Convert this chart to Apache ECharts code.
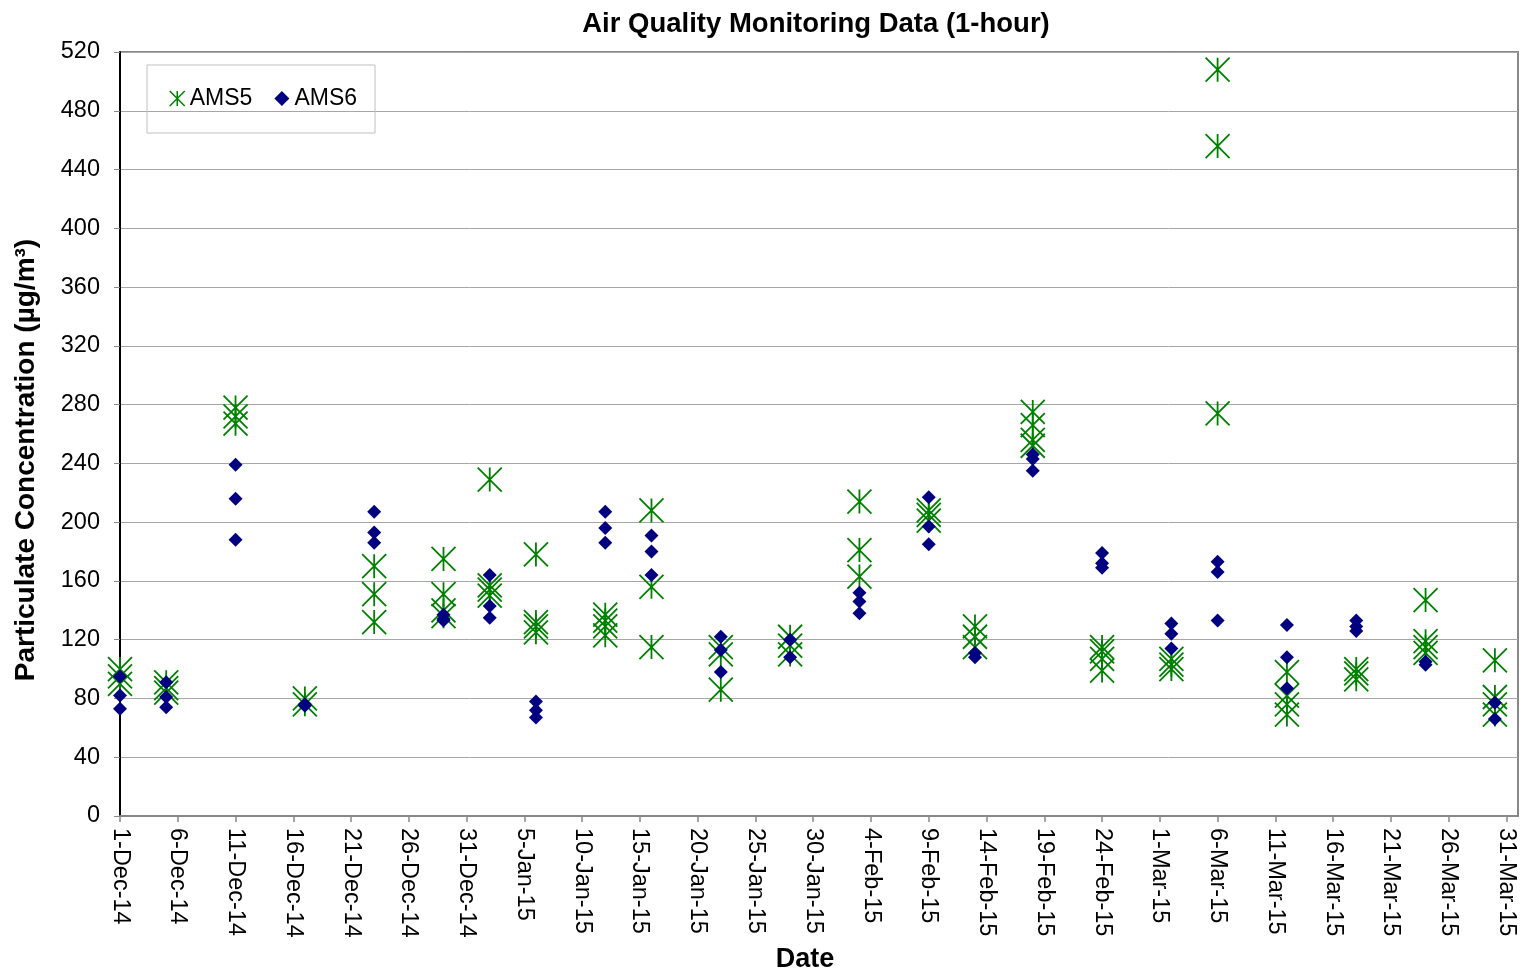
<!DOCTYPE html>
<html lang="en">
<head>
    <meta charset="utf-8">
    <title>Air Quality Monitoring Data (1-hour)</title>
    <script src="https://cdn.jsdelivr.net/npm/echarts@6/dist/echarts.min.js"></script>
    <style>
        html, body { margin: 0; padding: 0; background: #ffffff; }
        #chart { width: 1522px; height: 978px; }
    </style>
</head>
<body>
<div id="chart"></div>
<script>
    // sampling days, one group of hourly readings per day
    var sampleDates = ['2014-12-01', '2014-12-05', '2014-12-11', '2014-12-17', '2014-12-23', '2014-12-29',
        '2015-01-02', '2015-01-06', '2015-01-12', '2015-01-16', '2015-01-22', '2015-01-28',
        '2015-02-03', '2015-02-09', '2015-02-13', '2015-02-18', '2015-02-24', '2015-03-02',
        '2015-03-06', '2015-03-12', '2015-03-18', '2015-03-24', '2015-03-30'];

    var ams5 = [[100, 95, 90], [91, 87, 84], [278, 272, 267], [80, 76], [170, 151, 132], [175, 151, 140, 136],
        [229, 157, 154, 150], [178, 132, 129, 125], [137, 133, 129, 123], [208, 156, 115], [115, 110, 86], [122, 116, 110],
        [214, 181, 163], [208, 205, 201], [129, 122, 115], [275, 266, 256, 252], [115, 112, 107, 99], [107, 103, 100],
        [508, 456, 274], [98, 82, 76, 69], [100, 97, 93], [147, 119, 115, 111], [106, 81, 76, 69]];

    var ams6 = [[95, 82, 73], [91, 81, 74], [239, 216, 188], [76, 75], [207, 193, 186], [137, 134, 133],
        [164, 143, 135], [78, 72, 67], [207, 196, 186], [191, 180, 164], [122, 113, 98], [120, 108],
        [152, 146, 138], [217, 197, 185], [111, 108], [246, 243, 235], [179, 172, 169], [131, 124, 114],
        [173, 166, 133], [130, 108, 87], [133, 129, 126], [105, 103], [77, 66]];

    var yTicks = [0, 520, 40];   // min, max, step

    var startDay = Date.UTC(2014, 11, 1);
    var dayMs = 86400000;
    var months = ['Jan', 'Feb', 'Mar', 'Apr', 'May', 'Jun', 'Jul', 'Aug', 'Sep', 'Oct', 'Nov', 'Dec'];

    function dayIndex(s) {
        var p = s.split('-');
        return Math.round((Date.UTC(+p[0], +p[1] - 1, +p[2]) - startDay) / dayMs);
    }

    function dateLabel(v) {
        var d = new Date(startDay + v * dayMs);
        return d.getUTCDate() + '-' + months[d.getUTCMonth()] + '-' + String(d.getUTCFullYear()).slice(2);
    }

    function toPoints(groups) {
        var pts = [];
        for (var i = 0; i < groups.length; i++) {
            var x = dayIndex(sampleDates[i]);
            groups[i].forEach(function (v) { pts.push([x, v]); });
        }
        return pts;
    }

    var starPath = 'path://M0,0L20,20M20,0L0,20M10,0L10,20';
    var font = 'Liberation Sans, Arial, sans-serif';

    var chart = echarts.init(document.getElementById('chart'));
    chart.setOption({
        animation: false,
        backgroundColor: '#ffffff',
        title: {
            text: 'Air Quality Monitoring Data (1-hour)',
            left: 811,
            top: 5,
            textAlign: 'center',
            textStyle: {fontFamily: font, fontSize: 27.5, fontWeight: 'bold', color: '#000'}
        },
        legend: {
            left: 147,
            top: 65,
            padding: [22, 18, 23, 22],
            borderColor: '#c0c0c0',
            borderWidth: 1,
            itemWidth: 15,
            itemHeight: 15,
            itemGap: 22,
            textStyle: {fontFamily: font, fontSize: 23, color: '#000', padding: [0, 0, 0, 0]},
            data: [
                {name: 'AMS5', icon: starPath, itemStyle: {color: 'rgba(0,0,0,0)', borderColor: '#008000', borderWidth: 1.5, opacity: 1}},
                {name: 'AMS6', icon: 'diamond', itemStyle: {color: '#000080', borderWidth: 0, opacity: 1}}
            ]
        },
        grid: {
            left: 120,
            right: 4,
            top: 52,
            bottom: 162,
            show: true,
            borderColor: '#888888',
            borderWidth: 2
        },
        xAxis: {
            type: 'value',
            min: 0,
            max: 121,
            interval: 5,
            name: 'Date',
            nameLocation: 'middle',
            nameGap: 128,
            nameTextStyle: {fontFamily: font, fontSize: 27, fontWeight: 'bold', color: '#000', padding: [0, 28, 0, 0]},
            axisLine: {lineStyle: {color: '#888888', width: 2}},
            axisTick: {length: 6, lineStyle: {color: '#888888', width: 1.5}},
            splitLine: {show: false},
            axisLabel: {
                rotate: -90,
                margin: 12,
                showMaxLabel: false,
                fontFamily: font,
                fontSize: 23.5,
                color: '#000',
                formatter: dateLabel
            }
        },
        yAxis: {
            type: 'value',
            min: yTicks[0],
            max: yTicks[1],
            interval: yTicks[2],
            name: 'Particulate Concentration (\u00b5g/m\u00b3)',
            nameLocation: 'middle',
            nameGap: 80,
            nameTextStyle: {fontFamily: font, fontSize: 28, fontWeight: 'bold', color: '#000', padding: [0, 52, 0, 0]},
            axisLine: {show: true, lineStyle: {color: '#000', width: 2}},
            axisTick: {show: true, length: 6, lineStyle: {color: '#888888'}},
            splitLine: {lineStyle: {color: '#a6a6a6', width: 1}},
            axisLabel: {margin: 20, fontFamily: font, fontSize: 23.5, color: '#000'}
        },
        series: [
            {
                name: 'AMS5',
                type: 'scatter',
                symbol: starPath,
                symbolSize: 24,
                itemStyle: {color: 'rgba(0,0,0,0)', borderColor: '#008000', borderWidth: 1.8, opacity: 1},
                data: toPoints(ams5)
            },
            {
                name: 'AMS6',
                type: 'scatter',
                symbol: 'diamond',
                symbolSize: 14,
                itemStyle: {color: '#000080', opacity: 1},
                data: toPoints(ams6)
            }
        ]
    });
</script>
</body>
</html>
